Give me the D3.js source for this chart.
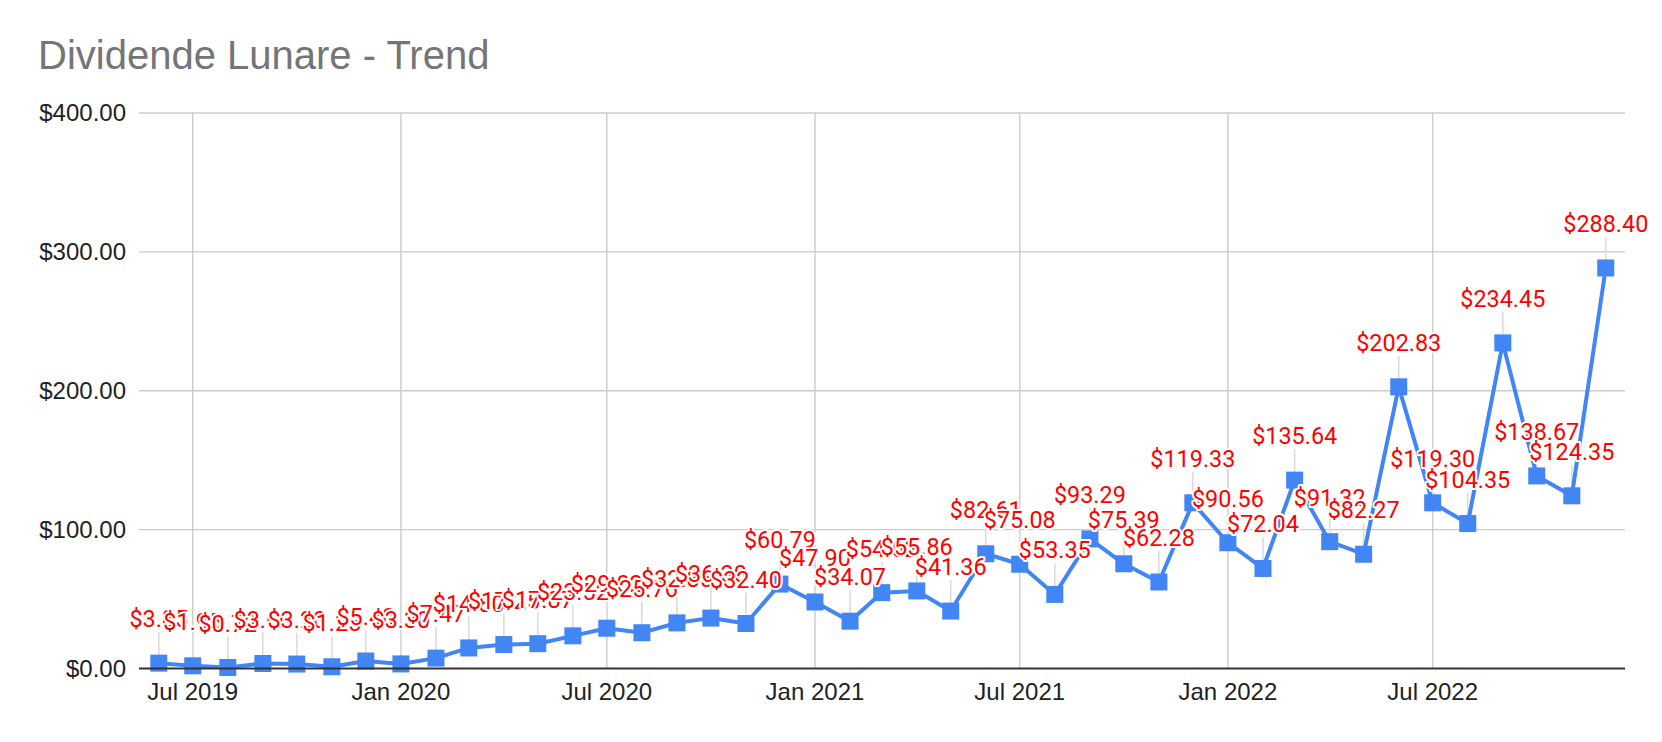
<!DOCTYPE html>
<html>
<head>
<meta charset="utf-8">
<script src="https://cdn.jsdelivr.net/npm/d3@7"></script>
<style>
  body { margin: 0; background: #fff; }
</style>
</head>
<body>
<div id="chart"></div>
<script>
// Monthly payouts, Jun 2019 - Dec 2022
var months = [
  "2019-06", "2019-07", "2019-08", "2019-09", "2019-10", "2019-11", "2019-12",
  "2020-01", "2020-02", "2020-03", "2020-04", "2020-05", "2020-06", "2020-07",
  "2020-08", "2020-09", "2020-10", "2020-11", "2020-12", "2021-01", "2021-02",
  "2021-03", "2021-04", "2021-05", "2021-06", "2021-07", "2021-08", "2021-09",
  "2021-10", "2021-11", "2021-12", "2022-01", "2022-02", "2022-03", "2022-04",
  "2022-05", "2022-06", "2022-07", "2022-08", "2022-09", "2022-10", "2022-11",
  "2022-12"
];
var payouts = [
  3.85, 1.95, 0.72, 3.60, 3.20, 1.25, 5.40,
  3.30, 7.47, 14.80, 17.25, 17.87, 23.52, 29.02,
  25.76, 32.85, 36.30, 32.40, 60.79, 47.90, 34.07,
  54.62, 55.86, 41.36, 82.61, 75.08, 53.35, 93.29,
  75.39, 62.28, 119.33, 90.56, 72.04, 135.64, 91.32,
  82.27, 202.83, 119.30, 104.35, 234.45, 138.67, 124.35,
  288.40
];
var yTicks = [0, 100, 200, 300, 400];
var chartTitle = "Dividende Lunare - Trend";

var width = 1662, height = 742,
    plotLeft = 139, plotRight = 1625,
    plotTop = 113, plotBottom = 668.5;

var parseMonth = d3.timeParse("%Y-%m");
var data = months.map(function(m, i) { return {date: parseMonth(m), value: payouts[i]}; });

var svg = d3.select("#chart").append("svg")
    .attr("width", width)
    .attr("height", height)
    .style("font-family", "'Liberation Sans', Arial, sans-serif");

// about half a month of padding each side, like the sheet does
var x = d3.scaleTime()
    .domain([new Date(2019, 4, 14, 12), new Date(2022, 11, 18)])
    .range([plotLeft, plotRight]);

var y = d3.scaleLinear()
    .domain([0, 400])
    .range([plotBottom, plotTop]);

// Title
svg.append("text")
    .attr("x", 38)
    .attr("y", 69)
    .style("font-size", "40px")
    .style("fill", "#757575")
    .text(chartTitle);

// Horizontal grid + y labels
var yAxis = svg.append("g").attr("class", "y-axis");
yAxis.selectAll("line")
    .data(yTicks.slice(1)).enter().append("line")
    .attr("x1", plotLeft).attr("x2", plotRight)
    .attr("y1", function(d) { return y(d); })
    .attr("y2", function(d) { return y(d); })
    .style("stroke", "#cccccc")
    .style("stroke-width", 1.4);
yAxis.selectAll("text")
    .data(yTicks).enter().append("text")
    .attr("x", 126)
    .attr("y", function(d) { return y(d); })
    .attr("dy", "0.35em")
    .attr("text-anchor", "end")
    .style("font-size", "24px")
    .style("fill", "#222")
    .text(function(d) { return "$" + d3.format(",.2f")(d); });

// Vertical grid + x labels
var xTicks = x.ticks(d3.timeMonth.every(6));
var xAxis = svg.append("g").attr("class", "x-axis");
xAxis.selectAll("line")
    .data(xTicks).enter().append("line")
    .attr("x1", function(d) { return x(d); })
    .attr("x2", function(d) { return x(d); })
    .attr("y1", plotTop).attr("y2", plotBottom)
    .style("stroke", "#cccccc")
    .style("stroke-width", 1.4);
xAxis.selectAll("text")
    .data(xTicks).enter().append("text")
    .attr("x", function(d) { return x(d); })
    .attr("y", 700)
    .attr("text-anchor", "middle")
    .style("font-size", "24px")
    .style("fill", "#222")
    .text(function(d) { return d3.timeFormat("%b %Y")(d); });

// Label stems
var stems = svg.append("g").attr("class", "stems");
stems.selectAll("line")
    .data(data).enter().append("line")
    .attr("x1", function(d) { return x(d.date); })
    .attr("x2", function(d) { return x(d.date); })
    .attr("y1", function(d) { return y(d.value) - 31; })
    .attr("y2", function(d) { return y(d.value) - 8; })
    .style("stroke", "#dddddd")
    .style("stroke-width", 1.7);

// Line
var line = d3.line()
    .x(function(d) { return x(d.date); })
    .y(function(d) { return y(d.value); });

svg.append("path")
    .datum(data)
    .attr("d", line)
    .style("fill", "none")
    .style("stroke", "#4285f4")
    .style("stroke-width", 4)
    .style("stroke-linejoin", "round");

// Square markers
var markerSize = 17;
svg.append("g").attr("class", "markers")
    .selectAll("rect")
    .data(data).enter().append("rect")
    .attr("x", function(d) { return x(d.date) - markerSize / 2; })
    .attr("y", function(d) { return y(d.value) - markerSize / 2; })
    .attr("width", markerSize)
    .attr("height", markerSize)
    .style("fill", "#4285f4");

// Baseline drawn over the markers
svg.append("line")
    .attr("x1", plotLeft).attr("x2", plotRight)
    .attr("y1", y(0)).attr("y2", y(0))
    .style("stroke", "#333333")
    .style("stroke-width", 2.2);

// Data labels with white halo
svg.append("g").attr("class", "labels")
    .selectAll("text")
    .data(data).enter().append("text")
    .attr("x", function(d) { return x(d.date); })
    .attr("y", function(d) { return y(d.value) - 36; })
    .attr("text-anchor", "middle")
    .style("font-family", "Roboto, sans-serif")
    .style("font-size", "23.4px")
    .style("fill", "#ff0000")
    .style("stroke", "#ffffff")
    .style("stroke-width", 4)
    .style("paint-order", "stroke")
    .style("stroke-linejoin", "round")
    .text(function(d) { return "$" + d.value.toFixed(2); });
</script>
</body>
</html>
